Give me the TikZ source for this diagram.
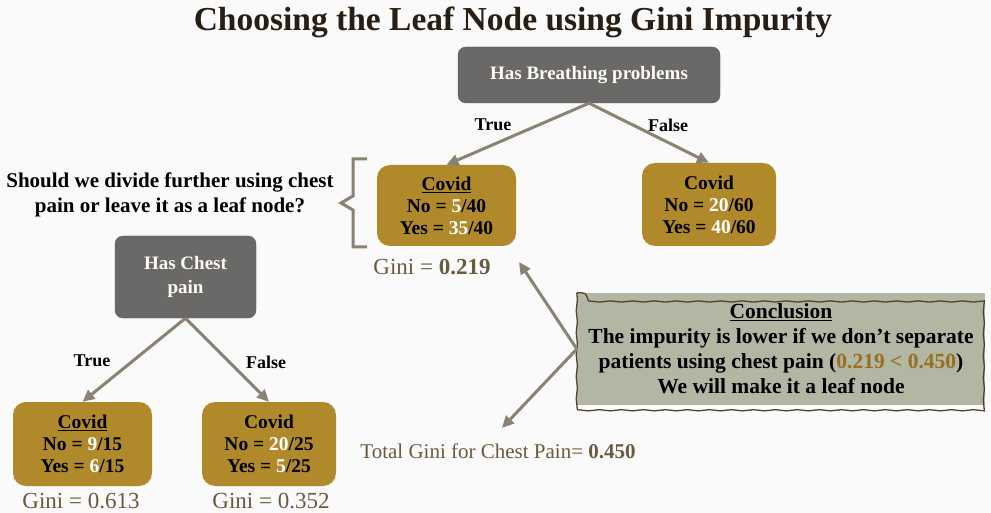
\documentclass[tikz,border=0pt]{standalone}
\usepackage{fontspec}
\setmainfont{Liberation Serif}
\usetikzlibrary{arrows.meta,decorations.pathmorphing}
\definecolor{nodegray}{RGB}{107,104,104}
\definecolor{leafgold}{RGB}{176,138,42}
\definecolor{numgold}{RGB}{150,112,30}
\definecolor{linkgray}{RGB}{138,130,115}
\definecolor{notesage}{RGB}{178,182,162}
\definecolor{notebrown}{RGB}{85,65,45}
\definecolor{ginibrown}{RGB}{107,90,62}
\definecolor{titleink}{RGB}{40,30,20}
\definecolor{pagebg}{RGB}{250,250,250}
\tikzset{
  decision/.style={rectangle, rounded corners=8pt, fill=nodegray, draw=nodegray!85!black,
    text=white!95!yellow, font=\fontsize{19}{24}\selectfont\bfseries, align=center},
  leaf/.style={rectangle, rounded corners=13pt, fill=leafgold, text=black,
    font=\fontsize{19.5}{22}\selectfont\bfseries, align=center},
  link/.style={draw=linkgray, line width=3pt, -{Triangle[length=12pt,width=11pt]}},
  branchlabel/.style={font=\fontsize{18}{20}\selectfont\bfseries, text=black},
  ginilabel/.style={font=\fontsize{23}{24}\selectfont, text=ginibrown},
  note/.style={rectangle, fill=notesage, text=black, align=center,
    font=\fontsize{21.5}{25}\selectfont\bfseries},
  wavy/.style={draw=notebrown, line width=1.3pt, decorate,
    decoration={snake, amplitude=0.6pt, segment length=22pt}}
}
\newcommand{\lit}[1]{\textcolor{white}{#1}}
\begin{document}
\begin{tikzpicture}[x=1pt,y=-1pt]
\fill[pagebg] (0,0) rectangle (991,513);
\useasboundingbox (0,0) rectangle (991,513);

% title
\node[font=\fontsize{33.5}{36}\selectfont\bfseries, text=titleink] (title) at (513,22) {Choosing the Leaf Node using Gini Impurity};

% first split
\node[decision, minimum width=262pt, minimum height=56pt] (breath) at (589,75) {Has Breathing problems};
\node[leaf, minimum width=139pt, minimum height=81pt] (covidA) at (446.5,205.5) {\underline{Covid}\\No = \lit{5}/40\\Yes = \lit{35}/40};
\node[leaf, minimum width=134pt, minimum height=83pt] (covidB) at (709,204.5) {Covid\\No = \lit{20}/60\\Yes = \lit{40}/60};
\draw[link] (breath.south) -- (covidA.north);
\draw[link] (breath.south) -- (covidB.north);
\node[branchlabel] (trueA) at (493,125) {True};
\node[branchlabel] (falseA) at (668,125) {False};
\node[ginilabel] (giniA) at (432,267) {Gini = \textbf{0.219}};

% question and bracket
\node[font=\fontsize{21}{25}\selectfont\bfseries, align=center] (ask) at (170,195) {Should we divide further using chest\\pain or leave it as a leaf node?};
\draw[linkgray, line width=3pt] (367,159) -- (353,159) -- (353,196) -- (341,203) -- (353,210) -- (353,247) -- (367,247);

% chest pain split
\node[decision, minimum width=141pt, minimum height=82pt] (chest) at (185.5,277) {Has Chest\\pain};
\node[leaf, minimum width=139pt, minimum height=84pt] (covidC) at (82.5,444) {\underline{Covid}\\No = \lit{9}/15\\Yes = \lit{6}/15};
\node[leaf, minimum width=134pt, minimum height=84pt] (covidD) at (269,444) {Covid\\No = \lit{20}/25\\Yes = \lit{5}/25};
\draw[link] (chest.south) -- (covidC.north);
\draw[link] (chest.south) -- (covidD.north);
\node[branchlabel] (trueB) at (92,361) {True};
\node[branchlabel] (falseB) at (266,362) {False};
\node[ginilabel] (giniC) at (81,501) {Gini = 0.613};
\node[ginilabel] (giniD) at (271,501) {Gini = 0.352};
\node[ginilabel, font=\fontsize{21}{24}\selectfont] (total) at (498,451) {Total Gini for Chest Pain= \textbf{0.450}};

% conclusion
\node[note, minimum width=408pt, minimum height=112pt] (concl) at (781,349) {\underline{Conclusion}\\The impurity is lower if we don't separate\\patients using chest pain (\textcolor{numgold}{0.219 < 0.450})\\We will make it a leaf node};
\draw[wavy] (concl.north west) rectangle (concl.south east);
\coordinate (tipA) at (519,262);
\coordinate (tipB) at (502,428);
\draw[link] (concl.west) -- (tipA);
\draw[link] (concl.west) -- (tipB);
\end{tikzpicture}
\end{document}
